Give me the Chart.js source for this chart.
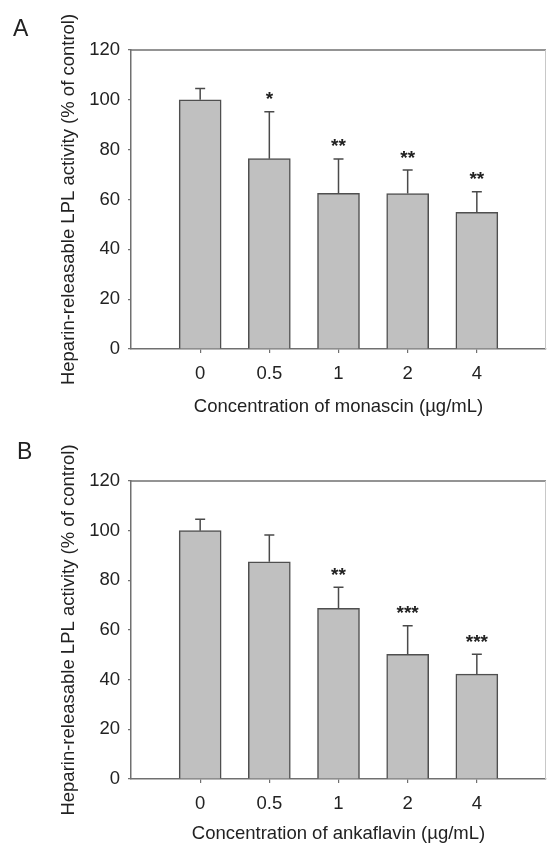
<!DOCTYPE html>
<html><head><meta charset="utf-8">
<script src="https://cdn.jsdelivr.net/npm/chart.js@4"></script>
<style>
html,body{margin:0;padding:0;background:#fff;}
#wrap{position:relative;width:547px;height:847px;overflow:hidden;}
canvas{position:absolute;left:0;}
#ca{top:0;}
#cb{top:420px;}
</style></head><body>
<div id="wrap">
<canvas id="ca" width="547" height="420"></canvas>
<canvas id="cb" width="547" height="427"></canvas>
</div>
<script>
// ---- data ----
const concentrations = ['0', '0.5', '1', '2', '4'];
const monascinMean = [100, 76.4, 62.5, 62.4, 54.9];
const monascinErr = [4.5, 18.8, 13.8, 9.4, 8.2];
const monascinSig = ['', '*', '**', '**', '**'];
const ankaflavinMean = [100, 87.5, 68.7, 50.2, 42.2];
const ankaflavinErr = [4.6, 10.8, 8.5, 11.5, 8.0];
const ankaflavinSig = ['', '', '**', '***', '***'];
const yTickValues = [0, 20, 40, 60, 80, 100, 120];
const yTitle = 'Heparin-releasable LPL activity (% of control)';
const xTitleA = 'Concentration of monascin (\u00b5g/mL)';
const xTitleB = 'Concentration of ankaflavin (\u00b5g/mL)';

const FONT = 'Liberation Sans, Arial, Helvetica, sans-serif';
const TEXT = '#222';
const AXIS = '#707070';
Chart.defaults.font.family = FONT;

const extras = {
  id: 'extras',
  afterDatasetsDraw(chart, args, opts) {
    const ctx = chart.ctx;
    const ca = chart.chartArea;
    const xs = chart.scales.x, ys = chart.scales.y;
    ctx.save();
    // frame top/right
    ctx.strokeStyle = AXIS;
    ctx.lineWidth = 1.5;
    ctx.beginPath();
    ctx.moveTo(ca.left, ca.top);
    ctx.lineTo(ca.right, ca.top);
    ctx.stroke();
    ctx.strokeStyle = '#c8c8c8';
    ctx.lineWidth = 1;
    ctx.beginPath();
    ctx.moveTo(ca.right - 0.5, ca.top);
    ctx.lineTo(ca.right - 0.5, ca.bottom);
    ctx.stroke();
    // error bars
    ctx.strokeStyle = '#4a4a4a';
    ctx.lineWidth = 1.5;
    opts.means.forEach((m, i) => {
      const x = xs.getPixelForValue(i);
      const y0 = ys.getPixelForValue(m);
      const y1 = ys.getPixelForValue(m + opts.errs[i]);
      ctx.beginPath();
      ctx.moveTo(x, y0);
      ctx.lineTo(x, y1);
      ctx.moveTo(x - 5, y1);
      ctx.lineTo(x + 5, y1);
      ctx.stroke();
      const s = opts.sigs[i];
      if (s) {
        ctx.fillStyle = TEXT;
        ctx.font = 'bold 19px ' + FONT;
        ctx.textAlign = 'center';
        ctx.textBaseline = 'alphabetic';
        const mt = ctx.measureText(s);
        const yc = y1 - 16;
        const base = yc + (mt.actualBoundingBoxAscent - mt.actualBoundingBoxDescent) / 2;
        ctx.fillText(s, x, base);
      }
    });
    // panel letter
    ctx.fillStyle = TEXT;
    ctx.font = '23px ' + FONT;
    ctx.textAlign = 'left';
    ctx.textBaseline = 'middle';
    ctx.fillText(opts.letter, opts.lx, opts.ly);
    ctx.restore();
  }
};

function makeChart(id, means, errs, sigs, xTitle, letter, lx, ly, topPad, xAxisH) {
  return new Chart(document.getElementById(id), {
    type: 'bar',
    data: {
      datasets: [{
        data: means.map((m, i) => ({x: i, y: m})),
        backgroundColor: '#c0c0c0',
        borderColor: '#4f4f4f',
        borderWidth: 1.5,
        barThickness: 42
      }]
    },
    options: {
      responsive: false,
      animation: false,
      devicePixelRatio: 1,
      layout: {padding: {top: topPad, right: 1, left: 0, bottom: 0}},
      plugins: {
        legend: {display: false},
        tooltip: {enabled: false},
        extras: {means, errs, sigs, letter, lx, ly}
      },
      scales: {
        x: {
          type: 'linear',
          min: -1,
          max: 5,
          offset: false,
          afterBuildTicks: s => { s.ticks = concentrations.map((_, i) => ({value: i})); },
          afterFit: s => { s.height = xAxisH; },
          ticks: {
            callback: v => concentrations[v],
            color: TEXT,
            font: {size: 18.5},
            padding: 10,
            maxRotation: 0,
            autoSkip: false
          },
          grid: {drawOnChartArea: false, offset: false, tickLength: 4, color: AXIS, lineWidth: 1.2},
          border: {color: AXIS, width: 1.5},
          title: {display: true, text: xTitle, color: TEXT, font: {size: 18.5}, padding: {top: 0, bottom: 2}}
        },
        y: {
          min: 0,
          max: 120,
          afterBuildTicks: s => { s.ticks = yTickValues.map(v => ({value: v})); },
          afterFit: s => { s.width = 131; },
          ticks: {color: TEXT, font: {size: 18.5}, padding: 8},
          grid: {drawOnChartArea: false, tickLength: 3, color: AXIS, lineWidth: 1.2},
          border: {color: AXIS, width: 1.5},
          title: {display: true, text: yTitle, color: TEXT, font: {size: 18.5}, padding: {top: 58, bottom: 0}}
        }
      }
    },
    plugins: [extras]
  });
}

makeChart('ca', monascinMean, monascinErr, monascinSig, xTitleA, 'A', 13, 30, 50, 71);
makeChart('cb', ankaflavinMean, ankaflavinErr, ankaflavinSig, xTitleB, 'B', 17, 33, 61, 68);
</script>
</body></html>
